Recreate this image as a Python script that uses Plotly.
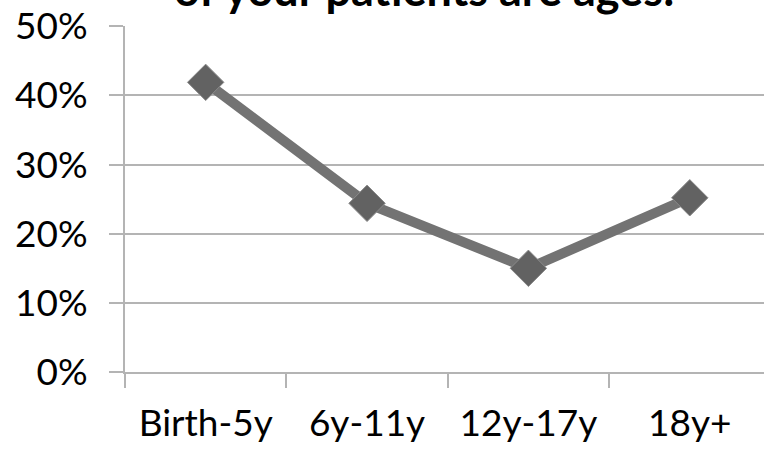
import plotly.graph_objects as go

# Share of patients by age group
age_groups = ["Birth-5y", "6y-11y", "12y-17y", "18y+"]
share = [0.419, 0.244, 0.150, 0.252]
y_ticks = [0, 0.1, 0.2, 0.3, 0.4, 0.5]
y_tick_text = ["0%", "10%", "20%", "30%", "40%", "50%"]

GRID = "#b4b4b4"
FONT = "Lato, 'Noto Sans', sans-serif"

fig = go.Figure()

fig.add_trace(go.Scatter(
    x=age_groups,
    y=share,
    mode="lines+markers",
    line=dict(color="#737373", width=10),
    marker=dict(symbol="diamond", size=28, color="#626262",
                line=dict(color="#8a8a8a", width=1)),
    cliponaxis=False,
    showlegend=False,
))

fig.add_annotation(
    text="<b>of your patients are ages:</b>",
    xref="paper", yref="paper",
    x=0.468, y=1.106, xanchor="center", yanchor="middle",
    showarrow=False,
    font=dict(family=FONT, size=45, color="#000000"),
)

fig.update_layout(
    width=764, height=451,
    margin=dict(l=125, r=0, t=26, b=79),
    paper_bgcolor="white",
    plot_bgcolor="white",
    font=dict(family=FONT, size=37, color="#000000"),
)

fig.update_xaxes(
    type="category",
    range=[-0.5, 3.46],
    tickson="boundaries",
    ticks="outside", ticklen=14, tickwidth=2, tickcolor=GRID,
    showline=True, linecolor=GRID, linewidth=2,
    showgrid=False,
    ticklabelstandoff=18,
)

fig.update_yaxes(
    range=[0, 0.5005],
    tickvals=y_ticks, ticktext=y_tick_text,
    ticks="outside", ticklen=14, tickwidth=2, tickcolor=GRID,
    showline=True, linecolor=GRID, linewidth=2,
    showgrid=True, gridcolor=GRID, gridwidth=2,
    zeroline=False,
    ticklabelstandoff=14,
)

fig.write_html("out.html")
